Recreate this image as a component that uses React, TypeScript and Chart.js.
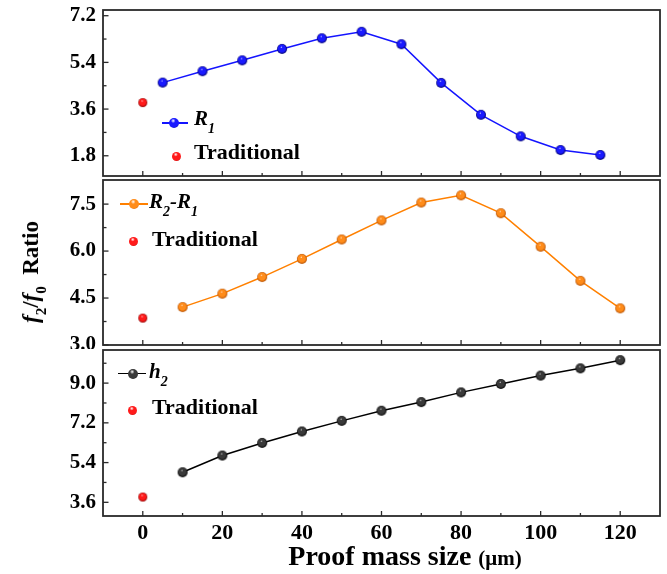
import React, { useEffect, useRef } from 'react';
import { Chart, registerables } from 'chart.js';
Chart.register(...registerables);

// ---------- data ----------
const xR1 = [5, 15, 25, 35, 45, 55, 65, 75, 85, 95, 105, 115];
const valR1 = [4.62, 5.06, 5.48, 5.92, 6.33, 6.58, 6.1, 4.61, 3.38, 2.55, 2.02, 1.83];
const xR2R1 = [10, 20, 30, 40, 50, 60, 70, 80, 90, 100, 110, 120];
const valR2R1 = [4.21, 4.64, 5.17, 5.75, 6.37, 6.98, 7.55, 7.78, 7.21, 6.14, 5.05, 4.17];
const xH2 = [10, 20, 30, 40, 50, 60, 70, 80, 90, 100, 110, 120];
const valH2 = [4.96, 5.72, 6.29, 6.81, 7.29, 7.75, 8.14, 8.58, 8.96, 9.34, 9.67, 10.04];
const xTraditional = [0];
const traditionalR1 = [3.85];
const traditionalR2R1 = [3.86];
const traditionalH2 = [3.84];

const xMajorTicks = [0, 20, 40, 60, 80, 100, 120];
const xMinorTicks = [10, 30, 50, 70, 90, 110];
const yMajorTop = [1.8, 3.6, 5.4, 7.2];
const yMinorTop = [2.7, 4.5, 6.3];
const yMajorMid = [3.0, 4.5, 6.0, 7.5];
const yMinorMid = [3.75, 5.25, 6.75];
const yMajorBot = [3.6, 5.4, 7.2, 9.0];
const yMinorBot = [4.5, 6.3, 8.1, 9.9];

// ---------- layout ----------
const W = 667, H = 574, M = 30;
const CW = W + 2 * M, CH = H + 2 * M;
const PLOT_L = 103, PLOT_R = 660;
const YW = 60, XH = 40;
const SERIF = "'Liberation Serif', 'Times New Roman', serif";

const COLORS = {
  blue: { base: '#1a1aff', dark: '#00006a', line: '#1414ff' },
  orange: { base: '#ff8c1a', dark: '#b34d00', line: '#ff8000' },
  black: { base: '#3a3a3a', dark: '#000000', line: '#000000' },
  red: { base: '#ff1a1a', dark: '#900000', line: '#ff0000' },
};

function sphere(base: string, dark: string, d: number) {
  const s = Math.ceil(d) + 2;
  const c = document.createElement('canvas');
  c.width = s; c.height = s;
  const ctx = c.getContext('2d')!;
  const cx = s / 2, cy = s / 2, r = d / 2;
  const g = ctx.createRadialGradient(cx - r * 0.15, cy - r * 0.4, 0, cx, cy, r);
  g.addColorStop(0, '#ffffff');
  g.addColorStop(0.22, base);
  g.addColorStop(0.7, base);
  g.addColorStop(1, dark);
  ctx.fillStyle = g;
  ctx.beginPath();
  ctx.arc(cx, cy, r, 0, Math.PI * 2);
  ctx.fill();
  return c;
}

interface Panel {
  top: number; bottom: number; yMin: number; yMax: number;
  yMajor: number[]; yMinor: number[];
  xs: number[]; ys: number[]; trad: number[];
  color: { base: string; dark: string; line: string };
  showX: boolean;
}

const panels: Panel[] = [
  { top: 10, bottom: 176, yMin: 1.02, yMax: 7.42, yMajor: yMajorTop, yMinor: yMinorTop, xs: xR1, ys: valR1, trad: traditionalR1, color: COLORS.blue, showX: false },
  { top: 180, bottom: 345, yMin: 3.0, yMax: 8.27, yMajor: yMajorMid, yMinor: yMinorMid, xs: xR2R1, ys: valR2R1, trad: traditionalR2R1, color: COLORS.orange, showX: false },
  { top: 350, bottom: 516, yMin: 2.98, yMax: 10.5, yMajor: yMajorBot, yMinor: yMinorBot, xs: xH2, ys: valH2, trad: traditionalH2, color: COLORS.black, showX: true },
];

function framePlugin(p: Panel) {
  return {
    id: 'frame',
    afterDraw(chart: any) {
      const { ctx, chartArea: a, scales } = chart;
      ctx.save();
      ctx.strokeStyle = '#2a2a2a';
      ctx.lineWidth = 1.8;
      ctx.strokeRect(a.left, a.top, a.right - a.left, a.bottom - a.top);
      ctx.lineWidth = 1.3;
      const line = (x1: number, y1: number, x2: number, y2: number) => {
        ctx.beginPath(); ctx.moveTo(x1, y1); ctx.lineTo(x2, y2); ctx.stroke();
      };
      xMajorTicks.forEach(v => { const px = scales.x.getPixelForValue(v); line(px, a.bottom, px, a.bottom - 5); });
      xMinorTicks.forEach(v => { const px = scales.x.getPixelForValue(v); line(px, a.bottom, px, a.bottom - 3); });
      p.yMajor.forEach(v => { const py = scales.y.getPixelForValue(v); line(a.left, py, a.left + 5.5, py); });
      p.yMinor.forEach(v => { const py = scales.y.getPixelForValue(v); line(a.left, py, a.left + 3.5, py); });
      ctx.restore();
    },
  };
}

function config(p: Panel): any {
  const pt = sphere(p.color.base, p.color.dark, 10);
  const red = sphere(COLORS.red.base, COLORS.red.dark, 9);
  return {
    type: 'line',
    data: {
      datasets: [
        {
          data: p.xs.map((x, i) => ({ x, y: p.ys[i] })),
          borderColor: p.color.line, borderWidth: 1.5, pointStyle: pt, pointRadius: 5,
          fill: false, tension: 0,
        },
        {
          data: xTraditional.map((x, i) => ({ x, y: p.trad[i] })),
          showLine: false, pointStyle: red, pointRadius: 4.5,
        },
      ],
    },
    options: {
      responsive: false, animation: false, events: [],
      layout: {
        padding: {
          left: PLOT_L + M - YW,
          right: CW - (PLOT_R + M),
          top: p.top + M,
          bottom: CH - (p.bottom + M) - (p.showX ? XH : 0),
        },
      },
      scales: {
        x: {
          type: 'linear', min: -10, max: 130, display: p.showX,
          grid: { display: false, drawTicks: false }, border: { display: false },
          afterBuildTicks: (s: any) => { s.ticks = xMajorTicks.map(v => ({ value: v })); },
          afterFit: (s: any) => { s.height = p.showX ? XH : 0; },
          ticks: {
            color: '#000', padding: 4, maxRotation: 0, autoSkip: false,
            font: { family: SERIF, size: 22, weight: 'bold' },
            callback: (v: any) => String(v),
          },
        },
        y: {
          type: 'linear', min: p.yMin, max: p.yMax,
          grid: { display: false, drawTicks: false }, border: { display: false },
          afterBuildTicks: (s: any) => { s.ticks = p.yMajor.map(v => ({ value: v })); },
          afterFit: (s: any) => { s.width = YW; },
          ticks: {
            color: '#000', padding: 7,
            font: { family: SERIF, size: 21, weight: 'bold' },
            callback: (v: any) => Number(v).toFixed(1),
          },
        },
      },
      plugins: { legend: { display: false }, tooltip: { enabled: false } },
    },
    plugins: [framePlugin(p)],
  };
}

// ---------- overlay helpers ----------
function Ball({ x, y, d, c }: { x: number; y: number; d: number; c: { base: string; dark: string } }) {
  return (
    <div style={{
      position: 'absolute', left: x - d / 2, top: y - d / 2, width: d, height: d, borderRadius: '50%',
      background: `radial-gradient(circle at 42% 28%, #ffffff 0%, ${c.base} 25%, ${c.base} 65%, ${c.dark} 100%)`,
    }} />
  );
}
function LineMark({ x1, x2, y, color }: { x1: number; x2: number; y: number; color: string }) {
  return <div style={{ position: 'absolute', left: x1, top: y - 0.75, width: x2 - x1, height: 1.5, background: color }} />;
}
function Txt({ x, baseline, fs, italic, children, center }: any) {
  return (
    <div style={{
      position: 'absolute', left: x, top: baseline - 0.8375 * fs, fontSize: fs, lineHeight: fs + 'px',
      fontFamily: SERIF, fontWeight: 'bold', fontStyle: italic ? 'italic' : 'normal', whiteSpace: 'nowrap',
      color: '#000', transform: center ? 'translateX(-50%)' : undefined,
    }}>{children}</div>
  );
}
function Sub({ children, fs }: any) {
  return <span style={{ fontSize: fs, position: 'relative', top: fs * 0.55 }}>{children}</span>;
}

export default function App() {
  const r1 = useRef<HTMLCanvasElement>(null);
  const r2 = useRef<HTMLCanvasElement>(null);
  const r3 = useRef<HTMLCanvasElement>(null);
  useEffect(() => {
    const refs = [r1, r2, r3];
    const charts = panels.map((p, i) => new Chart(refs[i].current!, config(p)));
    return () => charts.forEach(c => c.destroy());
  }, []);
  const cs: React.CSSProperties = { position: 'absolute', left: -M, top: -M, width: CW, height: CH };
  return (
    <div style={{ position: 'absolute', left: 0, top: 0, width: W, height: H, overflow: 'hidden', background: '#fff' }}>
      <canvas ref={r1} width={CW} height={CH} style={cs} />
      <canvas ref={r2} width={CW} height={CH} style={cs} />
      <div style={{ position: 'absolute', left: 0, top: 348.5, width: W, height: H - 348.5, background: '#fff' }} />
      <canvas ref={r3} width={CW} height={CH} style={cs} />

      {/* top legend */}
      <LineMark x1={162} x2={188} y={123} color={COLORS.blue.line} />
      <Ball x={174} y={123} d={10} c={COLORS.blue} />
      <Txt x={194} baseline={126} fs={21} italic>R<Sub fs={14}>1</Sub></Txt>
      <Ball x={176} y={156} d={9} c={COLORS.red} />
      <Txt x={194} baseline={159} fs={22}>Traditional</Txt>

      {/* middle legend */}
      <LineMark x1={120} x2={148} y={204} color={COLORS.orange.line} />
      <Ball x={134} y={204} d={10} c={COLORS.orange} />
      <Txt x={149} baseline={209} fs={21} italic>R<Sub fs={14}>2</Sub>-R<Sub fs={14}>1</Sub></Txt>
      <Ball x={133} y={241.5} d={9} c={COLORS.red} />
      <Txt x={152} baseline={246} fs={22}>Traditional</Txt>

      {/* bottom legend */}
      <LineMark x1={118} x2={146} y={373.5} color={COLORS.black.line} />
      <Ball x={132.5} y={373.5} d={10} c={COLORS.black} />
      <Txt x={149} baseline={379} fs={21} italic>h<Sub fs={14}>2</Sub></Txt>
      <Ball x={132.5} y={410} d={9} c={COLORS.red} />
      <Txt x={152} baseline={414} fs={22}>Traditional</Txt>

      {/* axis titles */}
      <Txt x={405} baseline={565} fs={28} center>
        Proof mass size <span style={{ fontSize: 21 }}>(μm)</span>
      </Txt>
      <div style={{
        position: 'absolute', left: 32, top: 272, transform: 'translate(-50%, -50%) rotate(-90deg)',
        fontFamily: SERIF, fontWeight: 'bold', fontSize: 23, lineHeight: '23px', whiteSpace: 'nowrap', color: '#000',
      }}>
        <i>f</i><Sub fs={15}>2</Sub>/<i>f</i><Sub fs={15}>0</Sub>&nbsp; Ratio
      </div>
    </div>
  );
}
